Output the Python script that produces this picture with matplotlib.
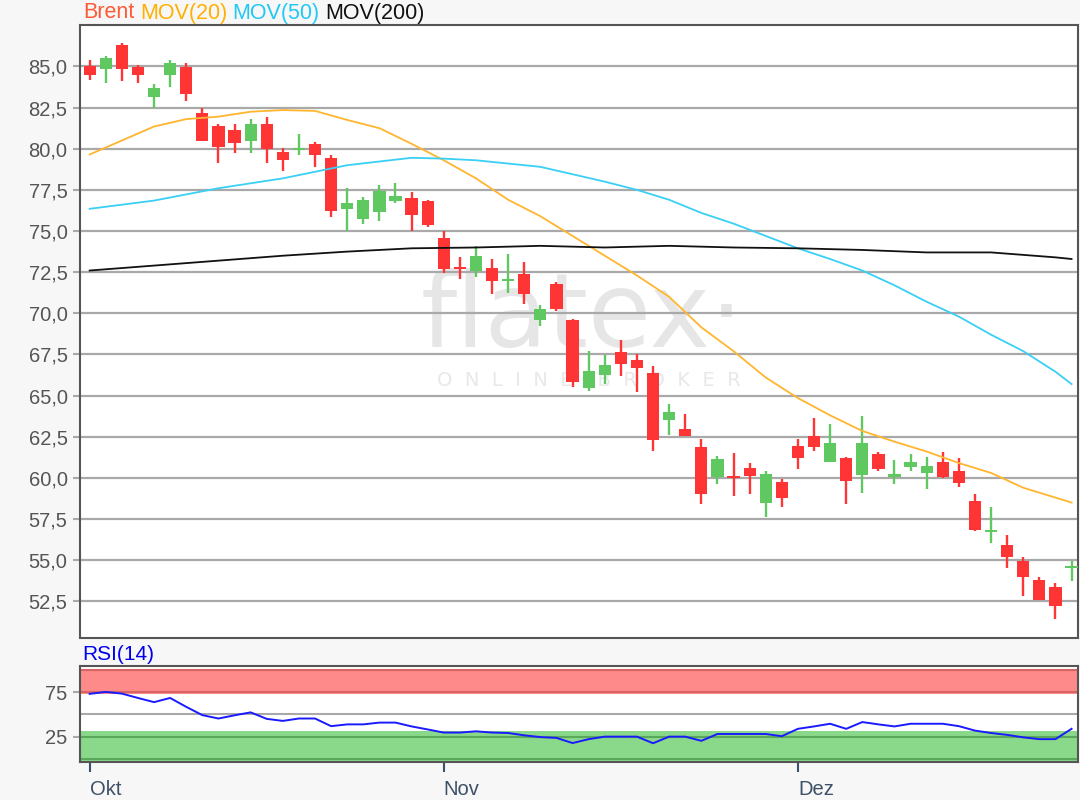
import numpy as np
import matplotlib
matplotlib.use("Agg")
import matplotlib.pyplot as plt

plt.rcParams["font.family"] = ["Liberation Sans", "DejaVu Sans"]

# ---- data ----
opens = [85.0, 84.85, 86.3, 84.95, 83.15, 84.5, 84.95, 82.15, 81.4, 81.15,
         80.5, 81.5, 79.8, 79.95, 80.3, 79.45, 76.35, 75.75, 76.15, 76.8,
         77.0, 76.8, 74.6, 72.8, 72.55, 72.75, 71.95, 72.4, 69.6, 71.8,
         69.6, 65.45, 66.25, 67.65, 67.15, 66.35, 63.5, 62.95, 61.85, 60.05,
         60.1, 60.6, 58.5, 59.75, 61.95, 62.55, 60.95, 61.2, 60.2, 61.45,
         60.05, 60.65, 60.3, 60.95, 60.4, 58.6, 56.7, 55.9, 54.95, 53.8,
         53.35, 54.5]
highs = [85.4, 85.65, 86.4, 85.1, 83.95, 85.4, 85.2, 82.5, 81.5, 81.5,
         81.8, 81.9, 80.05, 80.9, 80.4, 79.6, 77.6, 77.05, 77.8, 77.9,
         77.4, 76.9, 75.0, 73.4, 74.1, 73.3, 73.6, 73.1, 70.5, 71.9,
         69.65, 67.7, 67.45, 68.4, 67.5, 66.8, 64.5, 63.9, 62.35, 61.3,
         61.5, 60.9, 60.4, 59.95, 62.35, 63.65, 63.3, 61.25, 63.75, 61.6,
         61.1, 61.45, 61.25, 61.6, 61.2, 59.05, 58.2, 56.5, 55.2, 53.95,
         53.6, 54.95]
lows = [84.2, 84.0, 84.1, 84.0, 82.5, 83.75, 82.9, 80.45, 79.15, 79.75,
        79.75, 79.15, 78.65, 79.6, 78.9, 75.85, 75.0, 75.4, 75.6, 76.7,
        75.0, 75.25, 72.45, 72.1, 72.2, 71.15, 71.25, 70.55, 69.2, 70.15,
        65.55, 65.3, 65.7, 66.2, 65.2, 61.65, 62.6, 62.55, 58.4, 59.6,
        58.9, 59.05, 57.6, 58.25, 60.55, 61.65, 60.95, 58.4, 59.1, 60.4,
        59.6, 60.4, 59.35, 60.0, 59.45, 56.75, 56.05, 54.5, 52.8, 52.55,
        51.45, 53.75]
closes = [84.5, 85.5, 84.85, 84.5, 83.7, 85.2, 83.3, 80.5, 80.1, 80.35,
          81.5, 80.0, 79.3, 80.05, 79.65, 76.2, 76.7, 76.9, 77.45, 77.15,
          76.0, 75.35, 72.7, 72.7, 73.5, 71.95, 72.05, 71.15, 70.25, 70.25,
          65.8, 66.5, 66.85, 66.9, 66.7, 62.3, 64.0, 62.55, 59.0, 61.15,
          60.0, 60.1, 60.25, 58.75, 61.2, 61.9, 62.1, 59.8, 62.1, 60.55,
          60.25, 60.95, 60.7, 60.05, 59.7, 56.85, 56.8, 55.2, 54.0, 52.55,
          52.2, 54.65]

mov20_idx = [0, 2, 4, 6, 8, 10, 12, 14, 16, 18, 20, 22, 24, 26, 28, 30, 32, 34,
             36, 38, 40, 42, 44, 46, 48, 50, 52, 54, 56, 58, 60, 61]
mov20 = [79.65, 80.5, 81.35, 81.8, 81.95, 82.25, 82.35, 82.3, 81.75, 81.25,
         80.3, 79.3, 78.2, 76.9, 75.9, 74.7, 73.5, 72.3, 71.0, 69.15,
         67.7, 66.1, 64.85, 63.8, 62.85, 62.2, 61.6, 60.9, 60.3, 59.4,
         58.8, 58.5]

mov50_idx = [0, 4, 8, 12, 16, 20, 22, 24, 28, 32, 34, 36, 38, 40, 42, 44, 46,
             48, 50, 52, 54, 56, 58, 60, 61]
mov50 = [76.35, 76.85, 77.6, 78.2, 79.0, 79.45, 79.4, 79.3, 78.9, 78.0,
         77.5, 76.9, 76.1, 75.45, 74.7, 73.95, 73.3, 72.6, 71.7, 70.7,
         69.8, 68.7, 67.7, 66.45, 65.7]

mov200_idx = [0, 4, 8, 12, 16, 20, 24, 28, 32, 36, 40, 44, 48, 52, 56, 60, 61]
mov200 = [72.6, 72.9, 73.2, 73.5, 73.75, 73.95, 74.0, 74.1, 74.0, 74.1,
          74.0, 73.95, 73.85, 73.7, 73.7, 73.4, 73.3]

rsi = [73.1, 75.3, 73.4, 68.5, 63.8, 68.5, 58.5, 49.2, 45.4, 49.0,
       52.3, 45.0, 42.7, 45.4, 45.4, 36.8, 38.8, 38.8, 40.8, 40.8,
       36.5, 33.1, 29.6, 29.6, 31.0, 29.6, 29.1, 26.5, 24.5, 23.6,
       17.8, 22.2, 25.0, 25.0, 25.0, 17.6, 25.0, 25.0, 20.3, 28.0,
       28.0, 28.0, 28.0, 25.5, 33.8, 36.5, 39.5, 33.8, 41.4, 38.8,
       36.5, 39.5, 39.5, 39.5, 36.8, 31.8, 29.1, 27.0, 24.2, 22.2,
       22.2, 33.8]

price_ticks = [52.5, 55.0, 57.5, 60.0, 62.5, 65.0, 67.5, 70.0, 72.5, 75.0,
               77.5, 80.0, 82.5, 85.0]
month_pos = [0, 22, 44]
month_labels = ["Okt", "Nov", "Dez"]
rsi_ticks = [25, 75]
legend_items = [("Brent", "#ff5a36"), ("MOV(20)", "#ffb000"),
                ("MOV(50)", "#22c8f5"), ("MOV(200)", "#111111")]

RED = "#ff3434"
GREEN = "#60c860"
FRAME = "#555555"
GRID = "#a9a9a9"
TXT = "#555555"
XTXT = "#3d5066"


def main():
    o = np.array(opens); h = np.array(highs); l = np.array(lows); c = np.array(closes)
    idx = np.arange(len(o))
    colors = np.where(c >= o, GREEN, RED)

    fig = plt.figure(figsize=(10.8, 8.0), dpi=100, facecolor="#f7f7f7")
    ax = fig.add_axes([80 / 1080, (800 - 637.5) / 800, 998 / 1080, 613 / 800])
    ax2 = fig.add_axes([80 / 1080, (800 - 762) / 800, 998 / 1080, 96.5 / 800], sharex=ax)

    # ---- main price panel ----
    ax.set_facecolor("white")
    for y in price_ticks:
        ax.axhline(y, color=GRID, lw=1.6, zorder=1)

    # watermark
    ax.text(0.503, 0.52, "flatex\u00b7", transform=ax.transAxes, fontsize=74,
            color="#e6e6e6", ha="center", va="center", zorder=0.5,
            family="DejaVu Sans")
    ax.text(0.51, 0.42, "O  N  L  I  N  E    B  R  O  K  E  R", transform=ax.transAxes,
            fontsize=14, color="#e8e8e8", ha="center", va="center", zorder=0.5,
            family="DejaVu Sans")

    ax.vlines(idx, l, h, colors=colors, lw=1.7, zorder=3)
    body = np.maximum(np.abs(c - o), 0.12)
    ax.bar(idx, body, bottom=np.minimum(o, c), width=0.76, color=colors,
           edgecolor="none", zorder=4)

    ax.plot(mov20_idx, mov20, color="#ffb52e", lw=1.3, zorder=5)
    ax.plot(mov50_idx, mov50, color="#3acff5", lw=1.3, zorder=5)
    ax.plot(mov200_idx, mov200, color="#111111", lw=1.3, zorder=5)

    ax.set_xlim(-0.6, 61.4)
    ax.set_ylim(50.3, 87.55)
    ax.set_yticks(price_ticks)
    ax.set_yticklabels([f"{v:.1f}".replace(".", ",") for v in price_ticks])
    ax.tick_params(axis="y", length=5, width=1.5, color=GRID, labelcolor=TXT,
                   labelsize=14.5, pad=4)
    ax.tick_params(axis="x", bottom=False, labelbottom=False)
    for s in ax.spines.values():
        s.set_color(FRAME); s.set_linewidth(1.5)

    # legend line at the top: each label starts where the previous one ends
    prev = None
    for lab, col in legend_items:
        if prev is None:
            prev = fig.text(83 / 1080, 1 - 13 / 800, lab, color=col, fontsize=15.5,
                            va="center", ha="left")
        else:
            prev = ax.annotate(lab, xy=(1, 0), xycoords=prev, xytext=(4, 0),
                               textcoords="offset points", color=col, fontsize=15.5,
                               va="bottom", ha="left", annotation_clip=False)

    # ---- RSI panel ----
    ax2.set_facecolor("white")
    ax2.axhspan(73, 101.5, color="#ff8a8a", lw=0, zorder=1)
    ax2.axhspan(-5, 31.5, color="#8ad88a", lw=0, zorder=1)
    for y in (75, 100):
        ax2.axhline(y, color="#d86464", lw=1.5, zorder=2)
    for y in (0, 25):
        ax2.axhline(y, color="#5aa85a", lw=1.5, zorder=2)
    ax2.axhline(50, color=GRID, lw=1.5, zorder=2)
    ax2.plot(idx, rsi, color="#1a1aff", lw=1.4, zorder=3)
    ax2.set_ylim(-3.5, 105)
    ax2.set_yticks(rsi_ticks)
    ax2.tick_params(axis="y", length=5, width=1.5, color=GRID, labelcolor=TXT,
                    labelsize=14.5, pad=4)
    ax2.set_xticks(month_pos)
    ax2.set_xticklabels(month_labels, ha="left")
    ax2.tick_params(axis="x", length=7, width=1.5, color=XTXT, labelcolor=XTXT,
                    labelsize=14.5, pad=6)
    for s in ax2.spines.values():
        s.set_color(FRAME); s.set_linewidth(1.5)
    fig.text(82 / 1080, 1 - 655 / 800, "RSI(14)", color="#0000ee", fontsize=15,
             va="center", ha="left")

    fig.savefig("out.png", dpi=100, facecolor=fig.get_facecolor())


if __name__ == "__main__":
    main()
